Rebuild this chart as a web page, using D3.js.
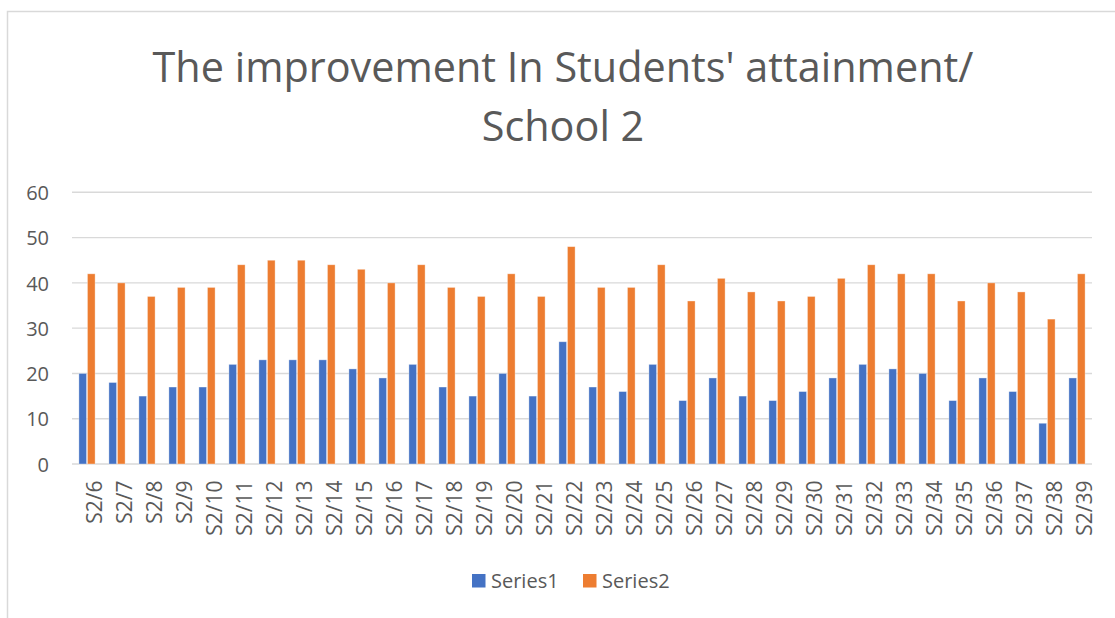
<!DOCTYPE html>
<html>
<head>
<meta charset="utf-8">
<script src="https://cdn.jsdelivr.net/npm/d3@7"></script>
<style>
  html, body { margin: 0; padding: 0; background: #ffffff; }
  svg { display: block; font-family: "Open Sans", "Noto Sans", sans-serif; }
</style>
</head>
<body>
<svg id="chart" width="1115" height="618"></svg>
<script>
// Category labels (students) and the two series
const categories = ["S2/6","S2/7","S2/8","S2/9","S2/10","S2/11","S2/12","S2/13","S2/14","S2/15",
  "S2/16","S2/17","S2/18","S2/19","S2/20","S2/21","S2/22","S2/23","S2/24","S2/25",
  "S2/26","S2/27","S2/28","S2/29","S2/30","S2/31","S2/32","S2/33","S2/34","S2/35",
  "S2/36","S2/37","S2/38","S2/39"];
const series1 = [20,18,15,17,17,22,23,23,23,21,19,22,17,15,20,15,27,17,16,22,14,19,15,14,16,19,22,21,20,14,19,16,9,19];
const series2 = [42,40,37,39,39,44,45,45,44,43,40,44,39,37,42,37,48,39,39,44,36,41,38,36,37,41,44,42,42,36,40,38,32,42];
const seriesNames = ["Series1", "Series2"];
const seriesColors = ["#4472C4", "#ED7D31"];
const yTicks = [0, 10, 20, 30, 40, 50, 60];
const titleLines = ["The improvement In Students' attainment/", "School 2"];

const svg = d3.select("#chart");
const textColor = "#595959";
const gridColor = "#d9d9d9";

// chart frame
svg.append("path")
  .attr("d", "M7.5,620 V11.5 H1120")
  .attr("fill", "none")
  .attr("stroke", gridColor)
  .attr("stroke-width", 1.5);

const plot = { left: 72, right: 1092, top: 192.3, bottom: 464 };

const x = d3.scaleBand().domain(categories).range([plot.left, plot.right]).paddingInner(0).paddingOuter(0);
const groupW = 16.2;
const x1 = d3.scaleBand().domain(seriesNames).range([0, groupW]).paddingInner(0.1);
const y = d3.scaleLinear().domain([0, 60]).range([plot.bottom, plot.top]);

// horizontal gridlines
svg.append("g")
  .selectAll("line")
  .data(yTicks)
  .join("line")
  .attr("x1", plot.left).attr("x2", plot.right)
  .attr("y1", d => y(d)).attr("y2", d => y(d))
  .attr("stroke", gridColor)
  .attr("stroke-width", 1.4);

// y axis labels
const yAxis = d3.axisLeft(y).tickValues(yTicks).tickSize(0).tickPadding(0);
svg.append("g")
  .attr("transform", `translate(${plot.left - 23},0)`)
  .call(yAxis)
  .call(g => g.select(".domain").remove())
  .call(g => g.selectAll("text")
    .attr("fill", textColor)
    .attr("font-size", 20)
    .attr("font-family", "'Open Sans', sans-serif")
    .attr("dy", "0.36em"));

// bars
const rows = categories.map((c, i) => ({ cat: c, vals: [series1[i], series2[i]] }));
const groups = svg.append("g")
  .selectAll("g")
  .data(rows)
  .join("g")
  .attr("transform", d => `translate(${x(d.cat) + (x.bandwidth() - groupW) / 2},0)`);

groups.selectAll("rect")
  .data(d => d.vals.map((v, k) => ({ name: seriesNames[k], v, k })))
  .join("rect")
  .attr("x", d => x1(d.name))
  .attr("width", x1.bandwidth())
  .attr("y", d => y(d.v))
  .attr("height", d => y(0) - y(d.v))
  .attr("fill", d => seriesColors[d.k])
  .attr("stroke", "#ffffff")
  .attr("stroke-opacity", 0.45)
  .attr("stroke-width", 0.8);

// x axis labels (rotated)
const xAxis = d3.axisBottom(x).tickSize(0).tickPadding(0);
svg.append("g")
  .attr("transform", `translate(0,${plot.bottom})`)
  .call(xAxis)
  .call(g => g.select(".domain").remove())
  .call(g => g.selectAll("text")
    .attr("fill", textColor)
    .attr("font-size", 21)
    .attr("font-family", "'Open Sans', sans-serif")
    .attr("text-anchor", "end")
    .attr("transform", "rotate(-90)")
    .attr("x", -16.5)
    .attr("y", 0)
    .attr("dy", "0.73em"));

// title
const title = svg.append("g");
const titleSize = 42;
titleLines.forEach((t, i) => {
  title.append("text")
    .attr("x", 563)
    .attr("y", 82.3 + i * 58.4)
    .attr("text-anchor", "middle")
    .attr("fill", textColor)
    .attr("font-size", titleSize)
    .attr("font-family", "'Open Sans', sans-serif")
    .text(t);
});
// fit the first title line to its intended width
const firstLine = title.select("text").node();
const w = firstLine.getComputedTextLength();
const scaleF = 821 / w;
title.selectAll("text").attr("font-size", titleSize * scaleF);

// legend
const legend = svg.append("g");
const legendItems = [{ name: seriesNames[0], color: seriesColors[0], x: 472 }, { name: seriesNames[1], color: seriesColors[1], x: 583 }];
legendItems.forEach(d => {
  legend.append("rect")
    .attr("x", d.x).attr("y", 574)
    .attr("width", 13.5).attr("height", 13.5)
    .attr("fill", d.color);
  legend.append("text")
    .attr("x", d.x + 19).attr("y", 588)
    .attr("fill", textColor)
    .attr("font-size", 20)
    .attr("font-family", "'Open Sans', sans-serif")
    .text(d.name);
});
</script>
</body>
</html>
